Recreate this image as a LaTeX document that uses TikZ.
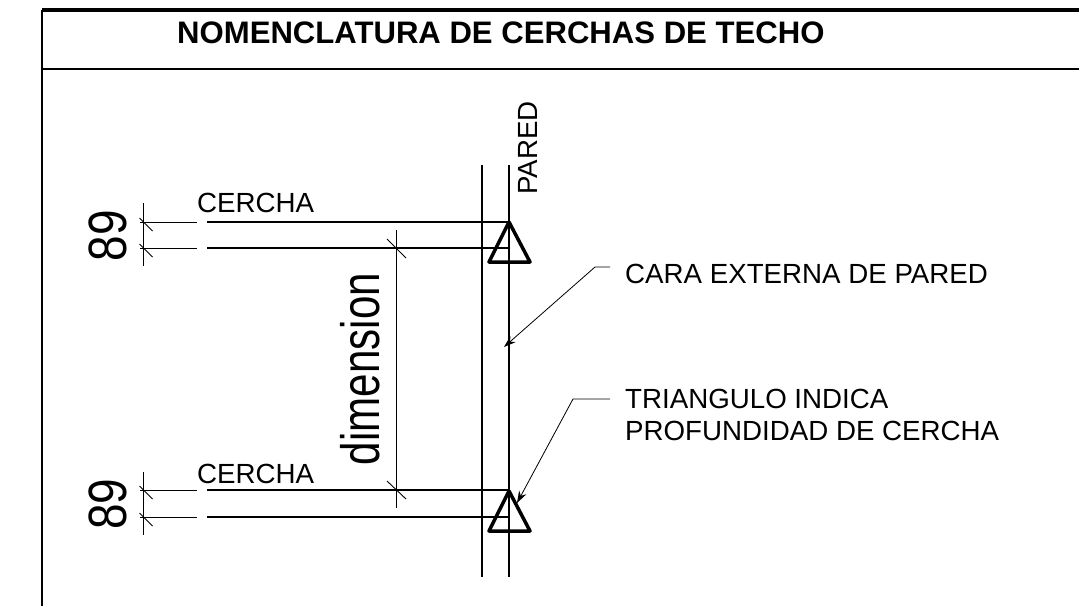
\documentclass[tikz,border=0pt]{standalone}
\usepackage{fontspec}
\setmainfont{Liberation Sans}
\usetikzlibrary{
    calc,
    arrows.meta
}
\tikzset{
  title/.style = {
      font=\fontsize{31.1}{31.1}\selectfont\bfseries,
      anchor=west,
      inner sep=0pt
  },
  note/.style = {
      font=\fontsize{27.7}{32}\selectfont,
      anchor=west,
      align=left,
      inner sep=0pt
  },
  dimtext/.style = {
      font=\fontsize{54}{54}\selectfont,
      rotate=90,
      inner sep=0pt
  },
  frameline/.style = {
      line width=1.5pt
  },
  wall/.style = {
      line width=1.5pt
  },
  truss/.style = {
      line width=1.4pt
  },
  thinline/.style = {
      line width=0.9pt
  },
  trimark/.style = {
      line width=3.5pt,
      line join=round
  },
  leader/.style = {
      line width=0.8pt,
      -{Stealth[length=12pt,width=8pt]}
  }
}
\begin{document}
\begin{tikzpicture}[x=1pt,y=-1pt]
    \useasboundingbox (0,0) rectangle (1079,606);
    % Frame
    \coordinate (ftl) at (42,10);
    \coordinate (ftr) at (1079,10);
    \coordinate (fbl) at (42,606);
    \coordinate (fml) at (42,69);
    \coordinate (fmr) at (1079,69);
    \draw[line width=3.5pt] (ftl) -- (ftr);
    \draw[frameline] (ftl) -- (fbl);
    \draw[frameline] (fml) -- (fmr);
    % Nodes
    \node[title] (head) at (177,33) {NOMENCLATURA DE CERCHAS DE TECHO};
    \node[note] (cer1) at (197,203) {CERCHA};
    \node[note] (cer2) at (197,474) {CERCHA};
    \node[note, rotate=90] (wallname) at (528,195) {PARED};
    \node[note] (face) at (625,274) {CARA EXTERNA DE PARED};
    \node[note] (depth) at (625,415) {TRIANGULO INDICA\\PROFUNDIDAD DE CERCHA};
    \node[dimtext] (dim) at (360,369) {\scalebox{0.78}[1]{dimension}};
    \node[dimtext] (n1) at (108,235.5) {\scalebox{0.85}[1]{89}};
    \node[dimtext] (n2) at (108,504) {\scalebox{0.85}[1]{89}};
    % Walls
    \coordinate (w1t) at (482,165);
    \coordinate (w1b) at (482,577);
    \coordinate (w2t) at (509,165);
    \coordinate (w2b) at (509,577);
    \draw[wall] (w1t) -- (w1b);
    \draw[wall] (w2t) -- (w2b);
    % Trusses
    \foreach \name/\ya/\yb/\yc/\yd in {a/222/248/203/266, b/490/517/472/535} {
        \coordinate (\name1) at (140,\ya);
        \coordinate (\name2) at (197,\ya);
        \coordinate (\name3) at (207,\ya);
        \coordinate (\name4) at (509,\ya);
        \coordinate (\name5) at (140,\yb);
        \coordinate (\name6) at (197,\yb);
        \coordinate (\name7) at (207,\yb);
        \coordinate (\name8) at (509,\yb);
        \coordinate (\name9) at (143.5,\yc);
        \coordinate (\name0) at (143.5,\yd);
        \draw[thinline] (\name1) -- (\name2);
        \draw[truss] (\name3) -- (\name4);
        \draw[thinline] (\name5) -- (\name6);
        \draw[truss] (\name7) -- (\name8);
        \draw[thinline] (\name9) -- (\name0);
        \draw[thinline] ($(\name9)+(-4,\ya-\yc-4)$) -- ($(\name9)+(9,\ya-\yc+9)$);
        \draw[thinline] ($(\name9)+(-4,\yb-\yc-4)$) -- ($(\name9)+(9,\yb-\yc+9)$);
    }
    % Triangles
    \draw[trimark] (509,222) coordinate (ta) -- (489,262) -- (530,262) -- cycle;
    \draw[trimark] (509,491) coordinate (tb) -- (489,531) -- (530,531) -- cycle;
    % Dimension line
    \coordinate (d1) at (396.5,230);
    \coordinate (d2) at (396.5,508);
    \draw[thinline] (d1) -- (d2);
    \draw[thinline] (387,239) -- (406,258);
    \draw[thinline] (387,481) -- (406,499);
    % Leaders
    \coordinate (l1a) at (610,267);
    \coordinate (l1b) at (595,267);
    \coordinate (l1c) at (504,347);
    \coordinate (l2a) at (610,399);
    \coordinate (l2b) at (573,399);
    \coordinate (l2c) at (517,503);
    \draw[leader] (l1a) -- (l1b) -- (l1c);
    \draw[leader] (l2a) -- (l2b) -- (l2c);
\end{tikzpicture}
\end{document}
